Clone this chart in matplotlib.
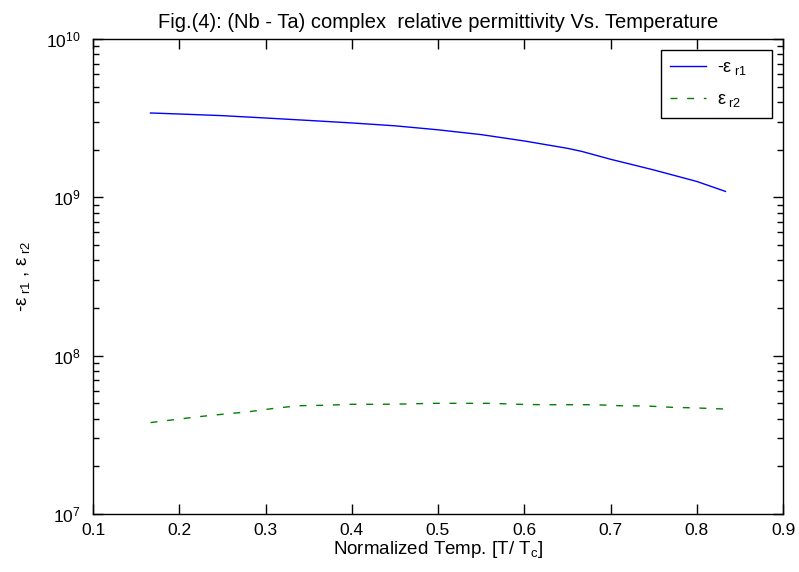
import matplotlib
matplotlib.use("Agg")
import matplotlib.pyplot as plt
from matplotlib.ticker import LogLocator, FixedLocator, NullFormatter

plt.rcParams['font.family'] = ['Liberation Sans', 'DejaVu Sans']
plt.rcParams['mathtext.fontset'] = 'custom'
plt.rcParams['mathtext.rm'] = 'Liberation Sans'
plt.rcParams['mathtext.it'] = 'Liberation Sans'
plt.rcParams['mathtext.sf'] = 'Liberation Sans'

# data
x1 = [0.1667, 0.2, 0.25, 0.3, 0.35, 0.4, 0.45, 0.5, 0.55, 0.6, 0.65, 0.6667, 0.7, 0.75, 0.8, 0.8333]
eps_r1 = [3.41e9, 3.36e9, 3.28e9, 3.17e9, 3.06e9, 2.95e9, 2.83e9, 2.67e9, 2.49e9, 2.27e9, 2.04e9, 1.95e9,
          1.74e9, 1.49e9, 1.26e9, 1.09e9]

x2 = [0.1667, 0.192, 0.223, 0.249, 0.280, 0.309, 0.338, 0.369, 0.400, 0.432, 0.458, 0.494, 0.536,
      0.562, 0.593, 0.622, 0.656, 0.682, 0.711, 0.742, 0.771, 0.802, 0.8333]
eps_r2 = [3.78e7, 3.93e7, 4.12e7, 4.26e7, 4.42e7, 4.64e7, 4.83e7, 4.86e7, 4.93e7, 4.93e7, 4.95e7, 5.0e7, 5.0e7,
          5.0e7, 4.93e7, 4.90e7, 4.90e7, 4.90e7, 4.83e7, 4.81e7, 4.72e7, 4.67e7, 4.60e7]

xticks = [0.1, 0.2, 0.3, 0.4, 0.5, 0.6, 0.7, 0.8, 0.9]

fig = plt.figure(figsize=(7.99, 5.72), dpi=100)
L, R, B, T = 93 / 799, 783 / 799, 1 - 514 / 572, 1 - 39 / 572
ax = fig.add_axes([L, B, R - L, T - B])

ax.semilogy(x1, eps_r1, color='#0000ff', lw=1.0, label=r'-$\varepsilon_{\rm\ r1}$    ')
ax.semilogy(x2, eps_r2, color='#008000', lw=1.0, linestyle=(0, (5, 7)), label=r'$\varepsilon_{\rm\ r2}$')

ax.set_xlim(0.1, 0.9)
ax.set_ylim(1e7, 1e10)
ax.xaxis.set_major_locator(FixedLocator(xticks))
ax.set_xticklabels([f"{t:g}" for t in xticks])
ax.yaxis.set_major_locator(LogLocator(base=10, numticks=10))
ax.yaxis.set_minor_locator(LogLocator(base=10, subs=range(2, 10), numticks=20))
ax.yaxis.set_minor_formatter(NullFormatter())

ax.tick_params(which='both', direction='in', top=True, right=True, labelsize=12.5, colors='black')
ax.tick_params(which='major', length=7, width=1)
ax.tick_params(which='minor', length=4, width=1)
ax.tick_params(axis='x', pad=6.5)
ax.tick_params(axis='y', pad=9)
for s in ax.spines.values():
    s.set_linewidth(1.0)

ax.set_title('Fig.(4): (Nb - Ta) complex  relative permittivity Vs. Temperature', fontsize=14.5, pad=8)
ax.set_xlabel(r'Normalized Temp. [T/ T$_{\rm c}$]', fontsize=13.5, labelpad=1)
ax.set_ylabel(r'-$\varepsilon_{\rm\ r1}$ , $\varepsilon_{\rm\ r2}$', fontsize=13.5)
ax.yaxis.set_label_coords((32 - 93) / 690, 0.5)

leg = ax.legend(loc='upper right', fontsize=13, frameon=True, fancybox=False, edgecolor='black',
                framealpha=1, borderaxespad=0.6, borderpad=0.5, handlelength=2.0,
                handletextpad=0.6, labelspacing=0.8)
leg.get_frame().set_linewidth(1.0)

fig.savefig('out.png', dpi=100)
